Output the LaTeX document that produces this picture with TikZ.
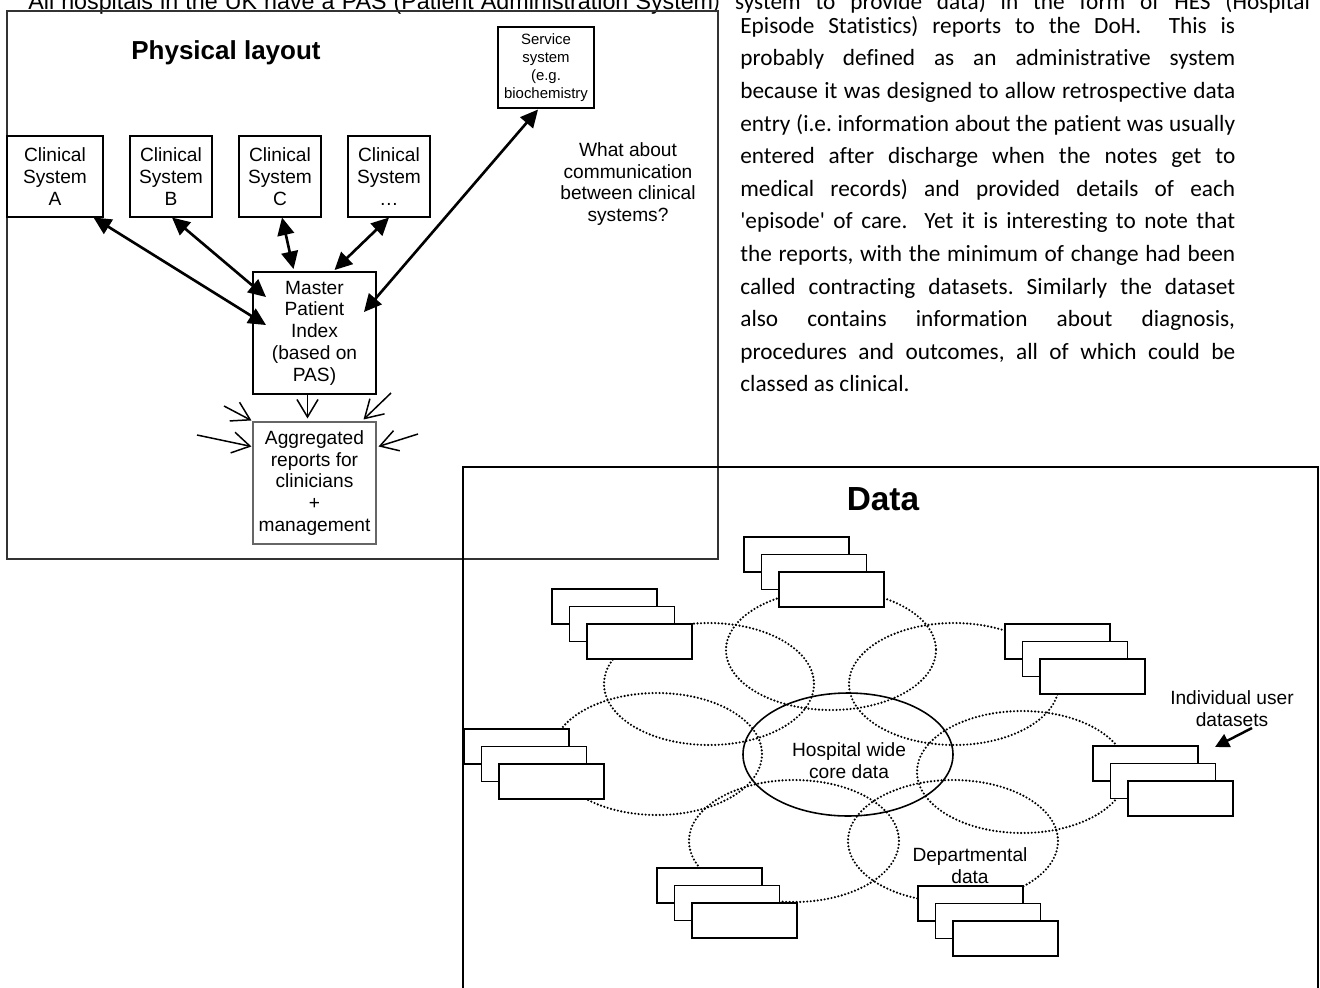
\documentclass[tikz,border=0pt]{standalone}
\usepackage{fontspec}
\setmainfont{Liberation Sans}
\newfontfamily\calibri{Carlito}[Ligatures=NoCommon]
\usetikzlibrary{arrows.meta,calc,shapes.geometric}
\newcommand\jl[1]{\makebox[9.9cm][s]{#1}}
\newcommand\datastack[1]{%
  \foreach \k in {0,1,2} {\draw[dsrect] ($(#1)+(17.5*\k,17.5*\k)$) rectangle ++(105,35);}}
\begin{document}
\begin{tikzpicture}[x=0.02cm,y=-0.02cm,
  sm/.style={font=\fontsize{10.9}{12.4}\selectfont},
  bx/.style 2 args={draw, line width=0.6pt, inner sep=0pt, minimum width=#1*0.02cm, minimum height=#2*0.02cm, align=center, sm},
  big/.style={line width=1.5pt, {Triangle[length=10pt,width=9.5pt]}-{Triangle[length=10pt,width=9.5pt]}},
  small/.style={line width=0.85pt, -{Straight Barb[length=10pt,width=12pt,line width=0.85pt]}},
  dots/.style={line width=1.35pt, dash pattern=on 0pt off 2pt, line cap=round},
  dsrect/.style={draw, fill=white, line width=0.9pt},
  para/.style={anchor=base west, inner sep=0pt, font=\calibri\fontsize{13.25}{18}\selectfont\frenchspacing},
]
\useasboundingbox (0,0) rectangle (1320,988);

% ---------- running text ----------
\node[para] (top) at (28,9) {\makebox[13.7cm][s]{\rmfamily All hospitals in the UK have a PAS (Patient Administration System}\makebox[11.94cm][s]{) system to provide data) in the form of HES (Hospital}};
\node[para] (p1) at (740,33.3) {\jl{Episode Statistics) reports to the DoH.\ \ This is}};
\node[para] (p2) at (740,65.9) {\jl{probably defined as an administrative system}};
\node[para] (p3) at (740,98.5) {\jl{because it was designed to allow retrospective data}};
\node[para] (p4) at (740,131.1) {\jl{entry (i.e. information about the patient was usually}};
\node[para] (p5) at (740,163.7) {\jl{entered after discharge when the notes get to}};
\node[para] (p6) at (740,196.3) {\jl{medical records) and provided details of each}};
\node[para] (p7) at (740,228.9) {\jl{'episode' of care.\ \ Yet it is interesting to note that}};
\node[para] (p8) at (740,261.5) {\jl{the reports, with the minimum of change had been}};
\node[para] (p9) at (740,294.1) {\jl{called contracting datasets. Similarly the dataset}};
\node[para] (p10) at (740,326.7) {\jl{also contains information about diagnosis,}};
\node[para] (p11) at (740,359.3) {\jl{procedures and outcomes, all of which could be}};
\node[para] (p12) at (740,391.9) {classed as clinical.};

% ---------- physical layout ----------
\draw[line width=0.6pt, black!80] (7,11) rectangle (718,559);
\node[anchor=base, font=\bfseries\fontsize{14.8}{17}\selectfont] (pl) at (226,59) {Physical layout};

\node[bx={96}{81}] (clA) at (55,176.5) {Clinical\\System\\A};
\node[bx={82}{81}] (clB) at (171,176.5) {Clinical\\System\\B};
\node[bx={82}{81}] (clC) at (280,176.5) {Clinical\\System\\C};
\node[bx={82}{81}] (clD) at (389,176.5) {Clinical\\System\\…};
\node[bx={96}{81}, font=\fontsize{8.5}{10.2}\selectfont] (svc) at (546,67.5) {Service\\system\\(e.g.\\biochemistry};
\node[bx={123}{122}, line width=1.1pt] (mpi) at (314.5,333) {Master\\Patient\\Index\\(based on\\PAS)};
\node[bx={123}{122}, draw=black!60] (agg) at (314.5,483) {Aggregated\\reports for\\clinicians\\+\\management};
\node[sm, align=center] (q) at (628,184) {What about\\communication\\between clinical\\systems?};

\draw[big] ($(clA.south east)+(-10,0)$) -- ($(mpi.north west)+(14,54)$);
\draw[big] ($(clB.south)+(1,0)$) -- ($(mpi.north west)+(14,26)$);
\draw[big] ($(clC.south)+(2,0)$) -- ($(mpi.north)+(-21,-2)$);
\draw[big] (clD.south) -- ($(mpi.north)+(20,-1)$);
\draw[big] ($(svc.south)+(-8,1)$) -- ($(mpi.north east)+(-13,41)$);

\coordinate (f1) at (224,406);
\coordinate (f2) at (197,435);
\coordinate (f3) at (391,393);
\coordinate (f4) at (418,434);
\draw[small] ($(mpi.south)+(-7,0)$) -- ($(agg.north)+(-7,-3)$);
\draw[small] (f1) -- ($(agg.north west)+(-1,-1)$);
\draw[small] (f2) -- ($(agg.north west)+(-1,25)$);
\draw[small] (f3) -- ($(agg.north east)+(-13,-2)$);
\draw[small] (f4) -- ($(agg.north east)+(2,25)$);

% ---------- data ----------
\draw[line width=0.9pt] (463,1000) -- (463,467) -- (1318,467) -- (1318,1000);
\node[anchor=base, font=\bfseries\fontsize{19}{22}\selectfont] (dt) at (883,510) {Data};

\draw[dots] (831,650) ellipse [x radius=105, y radius=60];
\draw[dots] (954,684) ellipse [x radius=105, y radius=61];
\draw[dots] (1022,772) ellipse [x radius=105, y radius=61];
\draw[dots] (953,841) ellipse [x radius=105, y radius=61];
\draw[dots] (794,841) ellipse [x radius=105, y radius=61];
\draw[dots] (657,754) ellipse [x radius=105, y radius=61];
\draw[dots] (709,684) ellipse [x radius=105, y radius=61];
\node[draw, ellipse, line width=0.9pt, inner sep=0pt, minimum width=210*0.02cm, minimum height=123*0.02cm] (core) at (848,754.5) {};

\datastack{552,589}
\datastack{744,537}
\datastack{1005,624}
\datastack{1093,746}
\datastack{918,886}
\datastack{657,868}
\datastack{464,729}

\node[sm, align=center] (coretext) at (849,761) {Hospital wide\\core data};
\node[sm, align=center] (dept) at (970,866) {Departmental\\data};
\node[sm, align=center] (ind) at (1232,709) {Individual user\\datasets};
\coordinate (indS) at (1252,728);
\coordinate (indE) at (1215,747);
\draw[line width=1.4pt, -{Triangle[length=8pt,width=8pt]}] (indS) -- (indE);
\end{tikzpicture}
\end{document}
